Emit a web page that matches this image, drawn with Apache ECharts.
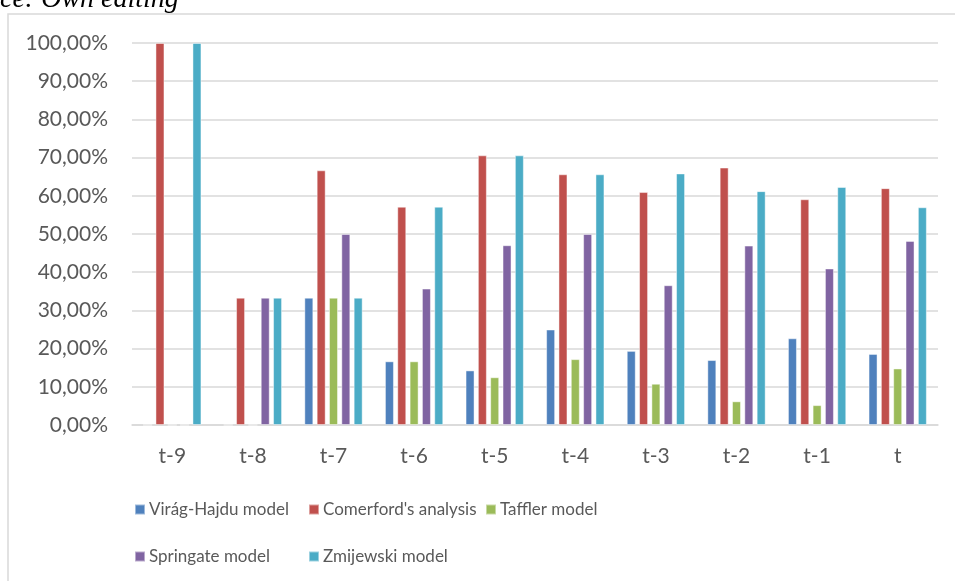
<!DOCTYPE html>
<html>
<head>
<meta charset="utf-8">
<title>Model results</title>
<script src="https://cdn.jsdelivr.net/npm/echarts@6/dist/echarts.min.js"></script>
<style>
    html, body { margin: 0; padding: 0; background: #fff; }
    #chart { width: 955px; height: 581px; }
</style>
</head>
<body>
<div id="chart"></div>
<script>
// categories and values (percent)
var categories = ['t-9', 't-8', 't-7', 't-6', 't-5', 't-4', 't-3', 't-2', 't-1', 't']
var seriesNames = ['Virág-Hajdu model', "Comerford's analysis", 'Taffler model', 'Springate model', 'Zmijewski model']
var viragHajdu = [0, 0, 33.33, 16.67, 14.29, 25.0, 19.4, 17.0, 22.7, 18.6]
var comerford = [100, 33.33, 66.67, 57.14, 70.59, 65.63, 60.98, 67.39, 59.09, 62.0]
var taffler = [0, 0, 33.33, 16.67, 12.5, 17.24, 10.8, 6.2, 5.2, 14.8]
var springate = [0, 33.33, 50, 35.71, 47.06, 50, 36.59, 46.96, 40.98, 48.2]
var zmijewski = [100, 33.33, 33.33, 57.14, 70.59, 65.63, 65.85, 61.22, 62.3, 57.0]
var yTicks = [0, 10, 20, 30, 40, 50, 60, 70, 80, 90, 100]

var colors = ['#4F81BD', '#C0504D', '#9BBB59', '#8064A2', '#4BACC6']
var values = [viragHajdu, comerford, taffler, springate, zmijewski]
var textColor = '#595959'
var fontFamily = 'Lato, "Open Sans", sans-serif'

var chart = echarts.init(document.getElementById('chart'))

// one legend per entry so the two rows line up like the original
var legendPos = [
    { left: 134, top: 501 },
    { left: 308, top: 501 },
    { left: 485, top: 501 },
    { left: 134, top: 548 },
    { left: 308, top: 548 },
]

chart.setOption({
    animation: false,
    color: colors,
    graphic: [
        {
            type: 'rect',
            shape: { x: 8, y: 14, width: 960, height: 600 },
            style: { fill: 'none', stroke: '#d9d9d9', lineWidth: 1.5 },
            z: -1,
        },
        {
            type: 'text',
            x: 0,
            y: 0,
            style: {
                text: 'ce: Own editing',
                fill: '#000',
                verticalAlign: 'middle',
                font: 'italic 28px "Liberation Serif", serif',
            },
        },
    ],
    grid: {
        left: 132,
        right: 17,
        top: 43,
        bottom: 156,
        containLabel: false,
    },
    legend: legendPos.map(function (p, i) {
        return {
            data: [seriesNames[i]],
            left: p.left,
            top: p.top,
            icon: 'rect',
            itemWidth: 10,
            itemHeight: 10,
            itemGap: 0,
            padding: 0,
            selectedMode: false,
            textStyle: { color: textColor, fontSize: 17, fontFamily: fontFamily, padding: [0, 0, 0, -1] },
        }
    }),
    xAxis: {
        type: 'category',
        data: categories,
        axisTick: { show: false },
        axisLine: { lineStyle: { color: '#d9d9d9', width: 1.5 } },
        axisLabel: {
            color: textColor,
            fontSize: 21,
            fontFamily: fontFamily,
            margin: 21,
        },
    },
    yAxis: {
        type: 'value',
        min: 0,
        max: 100,
        interval: 10,
        axisLine: { show: false },
        axisTick: { show: false },
        splitLine: { lineStyle: { color: '#d9d9d9', width: 1.5 } },
        axisLabel: {
            color: textColor,
            fontSize: 21,
            fontFamily: fontFamily,
            margin: 24,
            formatter: function (v) {
                return yTicks.indexOf(v) >= 0 ? v.toFixed(2).replace('.', ',') + '%' : ''
            },
        },
    },
    series: seriesNames.map(function (name, i) {
        return {
            name: name,
            type: 'bar',
            data: values[i],
            barWidth: 9,
            barGap: '37%',
            itemStyle: {
                color: colors[i],
                borderColor: 'rgba(255,255,255,0.45)',
                borderWidth: 1,
            },
        }
    }),
})
</script>
</body>
</html>
